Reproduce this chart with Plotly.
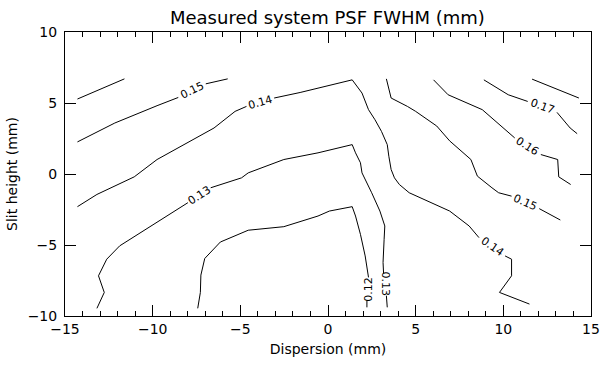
import plotly.graph_objects as go

# Contour polylines (None marks a label gap)
c016a_x = [-14.29, -11.61]
c016a_y = [5.28, 6.70]

c015a_x = [-14.29, -12.16, -9.75, -8.54, None, -6.97, -5.72]
c015a_y = [2.26, 3.59, 4.81, 5.39, None, 6.35, 6.70]

c014_x = [-14.29, -13.18, -11.05, -9.75, -6.50, -5.30, -4.65, None, -3.07, -1.59, 1.38,
          1.94, 2.31, 2.68, 3.05, 3.38, 3.47, 3.60, 3.79, 4.07, 4.63, 5.65, 6.94, 8.05,
          8.61, None, 10.10, 10.47, 10.47, 9.78, 11.49]
c014_y = [-2.30, -1.44, -0.20, 1.02, 3.24, 4.41, 4.76, None, 5.35, 5.74, 6.63,
          5.70, 4.53, 3.82, 3.00, 2.07, 1.25, 0.32, -0.27, -0.74, -1.32, -1.91, -2.61, -3.66,
          -4.48, None, -5.77, -6.00, -7.17, -8.34, -9.16]

c013_x = [-13.18, -12.76, -13.09, -12.62, -11.88, -8.64, -7.99, None, -6.69, -4.93, -4.55,
          -2.52, -0.57, 1.38, 1.57, 1.85, 1.94, 2.22, 2.49, 2.96, 3.24, 3.20, 3.14, 3.17,
          None, 3.33, 3.38]
c013_y = [-9.46, -8.34, -7.17, -6.00, -5.06, -2.49, -2.02, None, -0.97, -0.27, 0.08,
          1.02, 1.49, 2.07, 1.49, 0.79, 0.08, -0.62, -1.32, -2.61, -3.66, -4.60, -6.23, -7.00,
          None, -8.57, -9.39]

c012_x = [-7.43, -7.28, -7.25, -7.03, -6.14, -4.55, -2.52, -0.57, 0.08, 0.82, 1.38, 1.57,
          1.85, 2.12, 2.31, None, 2.22, 2.22]
c012_y = [-9.46, -8.34, -7.12, -5.95, -4.79, -3.96, -3.71, -2.96, -2.61, -2.44, -2.30, -2.96,
          -4.25, -5.77, -7.28, None, -8.93, -9.39]

c015b_x = [3.33, 3.60, 4.53, 5.00, 6.20, 6.94, 8.15, 8.52, 9.35, 9.73, 10.47, None, 12.05, 13.25]
c015b_y = [6.70, 5.35, 4.76, 4.41, 3.38, 2.33, 1.02, -0.15, -0.97, -1.32, -1.56, None, -2.44, -3.24]

c016b_x = [6.02, 6.85, 8.80, 10.65, None, 12.14, 13.10, 13.16, 13.84]
c016b_y = [6.63, 5.58, 4.53, 2.54, None, 1.37, 1.02, -0.20, -0.74]

c017_x = [8.89, 10.28, 11.39, None, 13.06, 13.81, 14.21]
c017_y = [6.63, 5.58, 5.11, None, 4.34, 3.24, 2.84]

c018_x = [11.64, 14.31]
c018_y = [6.68, 5.35]

# (x list, y list, label text per gap, label angle per gap)
contours = [
    (c016a_x, c016a_y, [], []),
    (c015a_x, c015a_y, ["0.15"], [-26]),
    (c014_x, c014_y, ["0.14", "0.14"], [-16, 35]),
    (c013_x, c013_y, ["0.13", "0.13"], [-33, 90]),
    (c012_x, c012_y, ["0.12"], [-90]),
    (c015b_x, c015b_y, ["0.15"], [24]),
    (c016b_x, c016b_y, ["0.16"], [32]),
    (c017_x, c017_y, ["0.17"], [20]),
    (c018_x, c018_y, [], []),
]

title_text = "Measured system PSF FWHM (mm)"
x_title = "Dispersion (mm)"
y_title = "Slit height (mm)"
FONT = "DejaVu Sans"

fig = go.Figure()
annotations = []
for xs, ys, labs, angs in contours:
    fig.add_trace(go.Scatter(x=xs, y=ys, mode="lines",
                             line=dict(color="black", width=1),
                             hoverinfo="skip", showlegend=False))
    gaps = [i for i, v in enumerate(xs) if v is None]
    for gi, lab, ang in zip(gaps, labs, angs):
        mx = (xs[gi - 1] + xs[gi + 1]) / 2
        my = (ys[gi - 1] + ys[gi + 1]) / 2
        annotations.append(dict(x=mx, y=my, xref="x", yref="y", text=lab,
                                showarrow=False, textangle=ang,
                                font=dict(family=FONT, size=11, color="black"),
                                xanchor="center", yanchor="middle"))

fig.update_layout(
    width=612, height=367,
    margin=dict(l=59, r=14, t=32, b=50),
    plot_bgcolor="white",
    title=dict(text=title_text, x=0.535, xref="container", xanchor="center",
               y=0.953, yref="container", yanchor="middle",
               font=dict(family=FONT, size=18, color="black")),
    xaxis=dict(range=[-15, 15], dtick=5, ticks="inside", ticklen=11, tickcolor="black",
               showline=True, linecolor="black", mirror="allticks",
               minor=dict(dtick=1, ticks="inside", ticklen=5),
               tickfont=dict(family=FONT, size=14, color="black"),
               title=dict(text=x_title, standoff=8, font=dict(family=FONT, size=14, color="black"))),
    yaxis=dict(range=[-10, 10], dtick=5, ticks="inside", ticklen=11, tickcolor="black",
               showline=True, linecolor="black", mirror="allticks", ticklabelstandoff=4,
               tickfont=dict(family=FONT, size=14, color="black"),
               title=dict(text=y_title, standoff=6, font=dict(family=FONT, size=14, color="black"))),
    annotations=annotations,
)

fig.write_html("out.html")
